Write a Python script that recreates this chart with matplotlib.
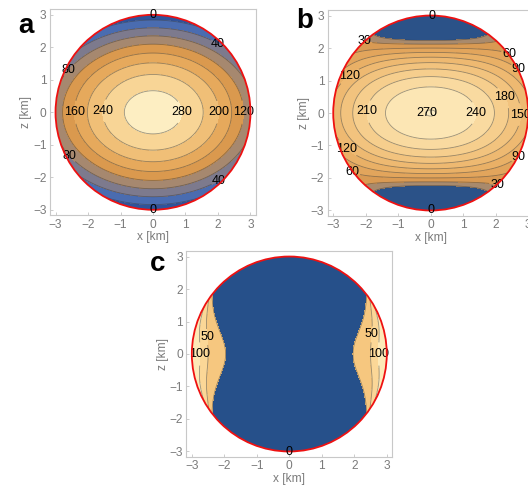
import numpy as np
import matplotlib
matplotlib.use("Agg")
import matplotlib.pyplot as plt
from matplotlib.patches import Circle

plt.rcParams['font.family'] = ['Liberation Sans', 'DejaVu Sans']

W, H = 528, 487
R = 3.0                      # body radius [km]
ticks = [-3, -2, -1, 0, 1, 2, 3]

# ---------------- panel a : field parameters & levels -----------------
a_peak = 300.0
a_semi_x = 3.77
a_semi_z = 2.84
a_levels = [0, 40, 80, 120, 160, 200, 240, 280]
a_colors = ['#30539a', '#4a6cb0', '#7d7a8d', '#a6886f', '#da994e',
            '#e6a95c', '#f0bf77', '#f8d596', '#fdeec2']
a_label_pos = [(2.05, 2.2), (2.07, -2.18), (-2.69, 1.4), (-2.69, -1.45),
               (-2.48, 0.0), (-1.61, 0.05), (0.9, 0.0), (2.07, 0.0), (2.82, 0.0)]

# ---------------- panel b : field parameters & levels -----------------
b_peak = 270.4
b_pz2, b_pz4 = 46.06, 1.68          # vertical decay coefficients
b_qx0, b_qz2, b_qz6 = -15.7, 1.285, 0.132   # horizontal curvature vs depth
b_levels = [0, 30, 60, 90, 120, 150, 180, 210, 240, 270]
b_colors = ['#2b5288', '#a98a6c', '#d99a53', '#e2a55c', '#e9b066', '#eeb971',
            '#f2c37e', '#f6ce8d', '#f9daa0', '#fce6b4', '#fdeec4']
b_label_pos = [(-2.07, 2.12), (2.08, -2.1), (2.43, 1.81), (-2.43, -1.79),
               (2.69, 1.35), (2.69, -1.33), (-2.43, 1.05), (-2.51, -1.02),
               (2.74, -0.05), (2.23, 0.46), (-1.97, 0.05), (1.31, 0.0)]

# ---------------- panel c : field parameters & levels -----------------
c_front_mid = 1.96      # half-width of the cold core at z = 0
c_front_gain = 0.43     # widening of the core with depth
c_front_scale = 0.95
c_slope0 = 0.267
c_slope_gain = 0.353
c_slope_ref = 1.46
c_levels = [0, 50, 100]
c_colors = ['#26508a', '#f6c77f', '#fbd797', '#fde9b7']
c_label_pos = [(-2.46, 0.53), (-2.75, 0.0), (2.55, 0.6), (2.77, 0.0)]

# ---------------- grid ----------------
g = np.linspace(-3.2, 3.2, 641)
X, Z = np.meshgrid(g, g)
outside = np.hypot(X, Z) > R + 0.03


def field_a():
    rho = np.sqrt((X / a_semi_x) ** 2 + (Z / a_semi_z) ** 2)
    return a_peak * np.cos(np.pi / 2 * rho)


def field_b():
    P = b_peak - b_pz2 * Z ** 2 - b_pz4 * Z ** 4
    Q = b_qx0 + b_qz2 * Z ** 2 + b_qz6 * Z ** 6
    return P + Q * X ** 2


def field_c():
    xb = c_front_mid + c_front_gain * (1 - np.exp(-(Z / c_front_scale) ** 2))
    s = c_slope0 + c_slope_gain * (np.abs(Z) / c_slope_ref) ** 4
    return s * (np.abs(X) ** 6 - xb ** 6)


fig = plt.figure(figsize=(W / 100, H / 100), dpi=100)

LABEL_FS = 9
TICK_FS = 8.6


def add_axes_px(left, top, w, h):
    return fig.add_axes([left / W, 1 - (top + h) / H, w / W, h / H])


def panel(ax, T, levels, colors, label_pos, zero_pos, extra_text=None):
    T = np.ma.array(T, mask=outside)
    fill_levels = [-1e5] + levels + [1e5]
    circ = Circle((0, 0), R, transform=ax.transData)
    cf = ax.contourf(X, Z, T, levels=fill_levels, colors=colors)
    cf.set_clip_path(circ)
    cl = ax.contour(X, Z, T, levels=levels, colors='#3a3a3a',
                    linewidths=0.6, alpha=0.5)
    cl.set_clip_path(Circle((0, 0), R, transform=ax.transData))
    labs = ax.clabel(cl, manual=label_pos, inline=True, inline_spacing=1,
                     fmt='%d', fontsize=LABEL_FS, colors='black')
    for t in labs:
        t.set_rotation(0)
        t.set_alpha(1.0)
        t.set_clip_on(False)
    for (x0, z0) in zero_pos:
        ax.text(x0, z0, '0', ha='center', va='center', fontsize=LABEL_FS,
                color='black', zorder=6)
    if extra_text:
        for (x0, z0, s) in extra_text:
            ax.text(x0, z0, s, ha='center', va='center', fontsize=LABEL_FS,
                    color='black', zorder=6)
    ax.add_patch(Circle((0, 0), R, fill=False, ec='#ee1111', lw=1.3, zorder=5))
    ax.set_xlim(-3.17, 3.17)
    ax.set_ylim(-3.17, 3.17)
    ax.set_aspect('auto')
    ax.set_xticks(ticks)
    ax.set_yticks(ticks)
    ax.set_xticklabels([str(t).replace('-', '\u2212') for t in ticks])
    ax.set_yticklabels([str(t).replace('-', '\u2212') for t in ticks])
    ax.tick_params(direction='in', length=2.5, width=0.6, colors='#c4c4c4',
                   labelcolor='#7a7a7a', labelsize=TICK_FS, pad=2.5)
    for sp in ax.spines.values():
        sp.set_color('#c8c8c8')
        sp.set_linewidth(0.8)
    ax.set_xlabel('x [km]', fontsize=TICK_FS, color='#7a7a7a', labelpad=0.5)
    ax.set_ylabel('z [km]', fontsize=TICK_FS, color='#7a7a7a', labelpad=0.5)


axa = add_axes_px(50, 9.3, 206, 206)
panel(axa, field_a(), a_levels, a_colors, a_label_pos, [(0, 2.98), (0, -3.0)])

axb = add_axes_px(327.7, 10, 206, 206)
panel(axb, field_b(), b_levels, b_colors, b_label_pos, [(0.03, 3.0), (0, -3.0)],
      extra_text=[(-0.12, 0.0, '270')])

axc = add_axes_px(186.3, 251, 206, 206)
panel(axc, field_c(), c_levels, c_colors, c_label_pos, [(0, -3.02)])

fig.text(26 / W, 1 - 26 / H, 'a', fontsize=20, fontweight='bold', ha='center', va='center')
fig.text(305 / W, 1 - 21 / H, 'b', fontsize=20, fontweight='bold', ha='center', va='center')
fig.text(158 / W, 1 - 264 / H, 'c', fontsize=20, fontweight='bold', ha='center', va='center')

fig.savefig('out.png', dpi=100)
